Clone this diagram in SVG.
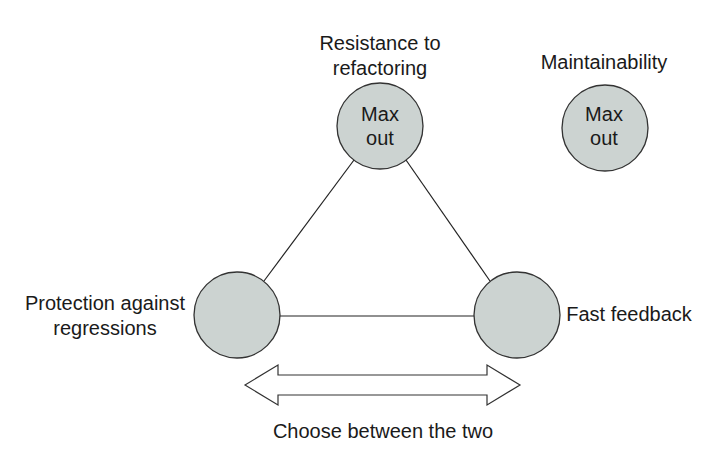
<svg xmlns="http://www.w3.org/2000/svg" width="715" height="455" viewBox="0 0 715 455">
<style>
.n{fill:#ccd3d1;stroke:#333;stroke-width:1.3}
.t{font-family:"Liberation Sans",Arial,sans-serif;font-size:20px;fill:#1a1a1a;text-anchor:middle}
.c{stroke:#222;stroke-width:1.2;fill:none}
</style>
<rect width="715" height="455" fill="#fff"/>
<g id="connectors">
<line class="c" x1="354" y1="160" x2="264" y2="281"/>
<line class="c" x1="406" y1="160" x2="490" y2="281"/>
<line class="c" x1="279" y1="316" x2="475" y2="316"/>
</g>
<g id="resistance">
<circle class="n" cx="380" cy="126" r="43"/>
<text class="t" x="380" y="50">Resistance to</text>
<text class="t" x="380" y="75">refactoring</text>
<text class="t" x="380" y="121">Max</text>
<text class="t" x="380" y="145">out</text>
</g>
<g id="maintainability">
<circle class="n" cx="605" cy="128" r="43"/>
<text class="t" x="604" y="69">Maintainability</text>
<text class="t" x="604" y="121">Max</text>
<text class="t" x="604" y="145">out</text>
</g>
<g id="protection">
<circle class="n" cx="237" cy="315" r="43"/>
<text class="t" x="105" y="310">Protection against</text>
<text class="t" x="105" y="335">regressions</text>
</g>
<g id="feedback">
<circle class="n" cx="517" cy="315" r="43"/>
<text class="t" x="629" y="321">Fast feedback</text>
</g>
<g id="choose">
<polygon points="245,385 278,365 278,375 487,375 487,365 520,385 487,405 487,395 278,395 278,405" fill="#fff" stroke="#333" stroke-width="1.2"/>
<text class="t" x="383" y="438">Choose between the two</text>
</g>
</svg>
